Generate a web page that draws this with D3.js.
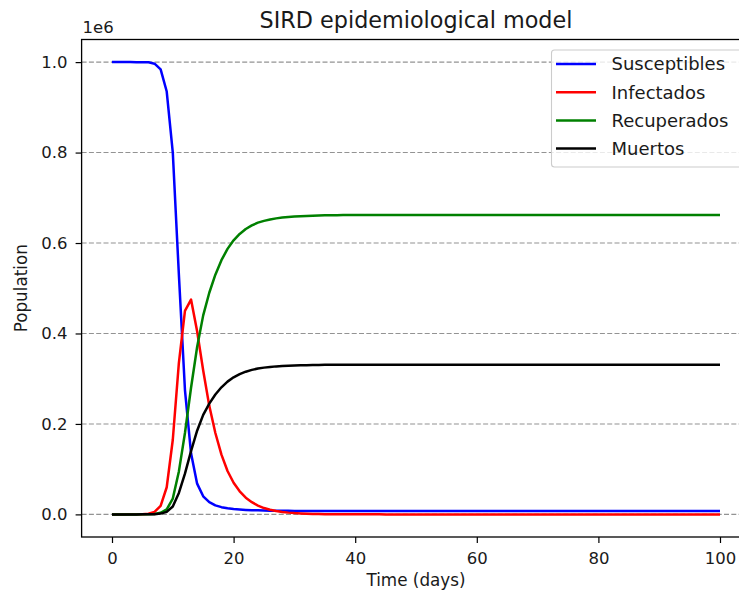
<!DOCTYPE html>
<html>
<head>
<meta charset="utf-8">
<script src="https://cdn.jsdelivr.net/npm/d3@7"></script>
<style>
  body { margin: 0; background: #fff; }
  svg { display: block; font-family: "DejaVu Sans", sans-serif; }
</style>
</head>
<body>
<svg id="chart" width="739" height="596"></svg>
<script>
// time steps (days)
var days = [0, 1, 2, 3, 4, 5, 6, 7, 8, 9,
  10, 11, 12, 13, 14, 15, 16, 17, 18, 19,
  20, 21, 22, 23, 24, 25, 26, 27, 28, 29,
  30, 31, 32, 33, 34, 35, 36, 37, 38, 39,
  40, 41, 42, 43, 44, 45, 46, 47, 48, 49,
  50, 51, 52, 53, 54, 55, 56, 57, 58, 59,
  60, 61, 62, 63, 64, 65, 66, 67, 68, 69,
  70, 71, 72, 73, 74, 75, 76, 77, 78, 79,
  80, 81, 82, 83, 84, 85, 86, 87, 88, 89,
  90, 91, 92, 93, 94, 95, 96, 97, 98, 99,
  100];

// series (people)
var susceptibles = [999999, 999998, 999995, 999985, 999950, 999850, 999500, 996500, 984000, 935000,
  800000, 530000, 275000, 135000, 68000, 40000, 27000, 20000, 16000, 13500,
  11800, 10700, 9900, 9300, 8900, 8600, 8300, 8100, 7950, 7850,
  7750, 7680, 7620, 7580, 7550, 7520, 7500, 7490, 7480, 7470,
  7460, 7460, 7460, 7460, 7460, 7460, 7460, 7460, 7460, 7460,
  7460, 7460, 7460, 7460, 7460, 7460, 7460, 7460, 7460, 7460,
  7460, 7460, 7460, 7460, 7460, 7460, 7460, 7460, 7460, 7460,
  7460, 7460, 7460, 7460, 7460, 7460, 7460, 7460, 7460, 7460,
  7460, 7460, 7460, 7460, 7460, 7460, 7460, 7460, 7460, 7460,
  7460, 7460, 7460, 7460, 7460, 7460, 7460, 7460, 7460, 7460,
  7460];

var infectados = [1, 3, 10, 35, 120, 420, 1500, 5500, 19000, 60000,
  165000, 335000, 450000, 475000, 405000, 318000, 240000, 180000, 132000, 96000,
  70000, 51000, 37000, 27000, 19500, 14000, 10200, 7400, 5400, 3900,
  2800, 2000, 1450, 1050, 760, 550, 400, 290, 210, 150,
  110, 80, 58, 42, 30, 22, 16, 12, 8, 6,
  4, 3, 2, 2, 1, 1, 1, 0, 0, 0,
  0, 0, 0, 0, 0, 0, 0, 0, 0, 0,
  0, 0, 0, 0, 0, 0, 0, 0, 0, 0,
  0, 0, 0, 0, 0, 0, 0, 0, 0, 0,
  0, 0, 0, 0, 0, 0, 0, 0, 0, 0,
  0];

var recuperados = [0, 0, 1, 4, 15, 60, 250, 1000, 3500, 11000,
  35000, 95000, 180000, 280000, 370000, 440000, 490000, 530000, 562000, 587000,
  606000, 620000, 631000, 639000, 645000, 649000, 652000, 654500, 656300, 657600,
  658600, 659400, 660000, 660500, 660900, 661200, 661450, 661650, 661800, 661900,
  661950, 661980, 662000, 662000, 662000, 662000, 662000, 662000, 662000, 662000,
  662000, 662000, 662000, 662000, 662000, 662000, 662000, 662000, 662000, 662000,
  662000, 662000, 662000, 662000, 662000, 662000, 662000, 662000, 662000, 662000,
  662000, 662000, 662000, 662000, 662000, 662000, 662000, 662000, 662000, 662000,
  662000, 662000, 662000, 662000, 662000, 662000, 662000, 662000, 662000, 662000,
  662000, 662000, 662000, 662000, 662000, 662000, 662000, 662000, 662000, 662000,
  662000];

var muertos = [0, 0, 0, 2, 7, 30, 125, 500, 1750, 5500,
  17500, 47500, 90000, 140000, 185000, 220000, 245000, 265000, 281000, 293500,
  303000, 310000, 315500, 319500, 322500, 324500, 326000, 327250, 328150, 328800,
  329300, 329700, 330000, 330250, 330450, 330600, 330730, 330830, 330900, 330950,
  330980, 330990, 331000, 331000, 331000, 331000, 331000, 331000, 331000, 331000,
  331000, 331000, 331000, 331000, 331000, 331000, 331000, 331000, 331000, 331000,
  331000, 331000, 331000, 331000, 331000, 331000, 331000, 331000, 331000, 331000,
  331000, 331000, 331000, 331000, 331000, 331000, 331000, 331000, 331000, 331000,
  331000, 331000, 331000, 331000, 331000, 331000, 331000, 331000, 331000, 331000,
  331000, 331000, 331000, 331000, 331000, 331000, 331000, 331000, 331000, 331000,
  331000];

var seriesNames = ["Susceptibles", "Infectados", "Recuperados", "Muertos"];
var seriesColors = ["#0000ff", "#ff0000", "#008000", "#000000"];
var xTicks = [0, 20, 40, 60, 80, 100];
var yTicks = [0, 200000, 400000, 600000, 800000, 1000000];

(function(){
  var svg = d3.select("#chart");
  var left = 81.6, right = 750.4, top = 39.5, bottom = 537;

  var x = d3.scaleLinear().domain([-5, 105]).range([left, right]);
  var y = d3.scaleLinear().domain([-50000, 1050000]).range([bottom, top]);

  // horizontal dashed grid
  svg.append("g").selectAll("line")
    .data(yTicks)
    .enter().append("line")
    .attr("x1", left).attr("x2", right)
    .attr("y1", function(d){ return y(d); })
    .attr("y2", function(d){ return y(d); })
    .style("stroke", "#808080")
    .style("stroke-opacity", 0.85)
    .style("stroke-width", 1.1)
    .style("stroke-dasharray", "5,2.3");

  var all = [susceptibles, infectados, recuperados, muertos];
  var line = d3.line()
    .x(function(d, i){ return x(days[i]); })
    .y(function(d){ return y(d); });

  all.forEach(function(vals, k){
    svg.append("path")
      .datum(vals)
      .attr("d", line)
      .style("fill", "none")
      .style("stroke", seriesColors[k])
      .style("stroke-width", 2.5)
      .style("stroke-linejoin", "round");
  });

  // axes
  var xAxis = svg.append("g")
    .attr("transform", "translate(0," + bottom + ")")
    .call(d3.axisBottom(x).tickValues(xTicks).tickSize(6).tickPadding(9).tickFormat(d3.format("d")));
  var yAxis = svg.append("g")
    .attr("transform", "translate(" + left + ",0)")
    .call(d3.axisLeft(y).tickValues(yTicks).tickSize(6).tickPadding(8)
      .tickFormat(function(d){ return (d / 1e6).toFixed(1); }));
  [xAxis, yAxis].forEach(function(ax){
    ax.select(".domain").remove();
    ax.selectAll("line").style("stroke", "#000").style("stroke-width", 1.2);
    ax.selectAll("text").style("font-size", "16.5px").style("fill", "#1a1a1a")
      .style("font-family", "DejaVu Sans");
  });

  // spines (right one falls outside the picture)
  svg.append("rect")
    .attr("x", left).attr("y", top)
    .attr("width", right - left).attr("height", bottom - top)
    .style("fill", "none").style("stroke", "#000").style("stroke-width", 1.3);

  // offset text
  svg.append("text").attr("x", left + 1).attr("y", 33)
    .style("font-size", "16.5px").style("fill", "#1a1a1a").text("1e6");

  // title and labels
  svg.append("text").attr("x", (left + right) / 2).attr("y", 28)
    .attr("text-anchor", "middle")
    .style("font-size", "22.3px").style("fill", "#1a1a1a")
    .text("SIRD epidemiological model");
  svg.append("text").attr("x", (left + right) / 2).attr("y", 586)
    .attr("text-anchor", "middle")
    .style("font-size", "16.8px").style("fill", "#1a1a1a")
    .text("Time (days)");
  svg.append("text")
    .attr("transform", "translate(27," + ((top + bottom) / 2) + ") rotate(-90)")
    .attr("text-anchor", "middle")
    .style("font-size", "16.8px").style("fill", "#1a1a1a")
    .text("Population");

  // legend
  var lg = svg.append("g");
  lg.append("rect")
    .attr("x", 551.5).attr("y", 50).attr("width", 220).attr("height", 117)
    .attr("rx", 3)
    .style("fill", "#fff").style("fill-opacity", 0.8)
    .style("stroke", "#cccccc").style("stroke-width", 1.1);
  seriesNames.forEach(function(name, k){
    var ry = 64 + k * 28.2;
    lg.append("line")
      .attr("x1", 556).attr("x2", 596).attr("y1", ry).attr("y2", ry)
      .style("stroke", seriesColors[k]).style("stroke-width", 2.5);
    lg.append("text")
      .attr("x", 611.5).attr("y", ry).attr("dy", "0.36em")
      .style("font-size", "18px").style("fill", "#1a1a1a")
      .text(name);
  });
})();
</script>
</body>
</html>
